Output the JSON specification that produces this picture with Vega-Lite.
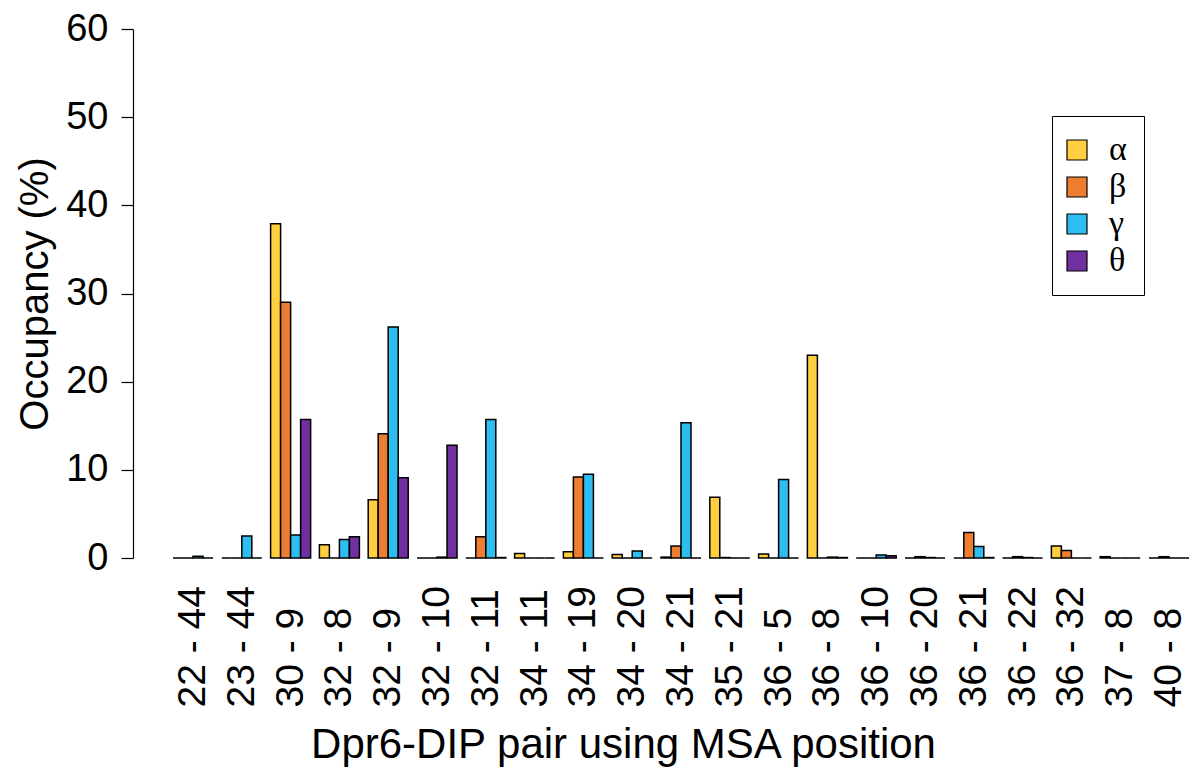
{
  "$schema": "https://vega.github.io/schema/vega-lite/v6.json",
  "width": 1032,
  "height": 529,
  "autosize": "none",
  "padding": {"left": 165, "top": 29, "right": 0, "bottom": 212},
  "background": "white",
  "config": {"view": {"stroke": null}},
  "data": {"values": [
    {"pair": "22 - 44", "s": "α", "v": 0}, {"pair": "22 - 44", "s": "β", "v": 0}, {"pair": "22 - 44", "s": "γ", "v": 0.2}, {"pair": "22 - 44", "s": "θ", "v": 0},
    {"pair": "23 - 44", "s": "α", "v": 0}, {"pair": "23 - 44", "s": "β", "v": 0}, {"pair": "23 - 44", "s": "γ", "v": 2.5}, {"pair": "23 - 44", "s": "θ", "v": 0},
    {"pair": "30 - 9", "s": "α", "v": 37.9}, {"pair": "30 - 9", "s": "β", "v": 29.0}, {"pair": "30 - 9", "s": "γ", "v": 2.6}, {"pair": "30 - 9", "s": "θ", "v": 15.7},
    {"pair": "32 - 8", "s": "α", "v": 1.5}, {"pair": "32 - 8", "s": "β", "v": 0}, {"pair": "32 - 8", "s": "γ", "v": 2.1}, {"pair": "32 - 8", "s": "θ", "v": 2.4},
    {"pair": "32 - 9", "s": "α", "v": 6.6}, {"pair": "32 - 9", "s": "β", "v": 14.1}, {"pair": "32 - 9", "s": "γ", "v": 26.2}, {"pair": "32 - 9", "s": "θ", "v": 9.1},
    {"pair": "32 - 10", "s": "α", "v": 0}, {"pair": "32 - 10", "s": "β", "v": 0}, {"pair": "32 - 10", "s": "γ", "v": 0.1}, {"pair": "32 - 10", "s": "θ", "v": 12.8},
    {"pair": "32 - 11", "s": "α", "v": 0}, {"pair": "32 - 11", "s": "β", "v": 2.4}, {"pair": "32 - 11", "s": "γ", "v": 15.7}, {"pair": "32 - 11", "s": "θ", "v": 0.05},
    {"pair": "34 - 11", "s": "α", "v": 0.5}, {"pair": "34 - 11", "s": "β", "v": 0}, {"pair": "34 - 11", "s": "γ", "v": 0}, {"pair": "34 - 11", "s": "θ", "v": 0},
    {"pair": "34 - 19", "s": "α", "v": 0.7}, {"pair": "34 - 19", "s": "β", "v": 9.2}, {"pair": "34 - 19", "s": "γ", "v": 9.5}, {"pair": "34 - 19", "s": "θ", "v": 0},
    {"pair": "34 - 20", "s": "α", "v": 0.4}, {"pair": "34 - 20", "s": "β", "v": 0}, {"pair": "34 - 20", "s": "γ", "v": 0.8}, {"pair": "34 - 20", "s": "θ", "v": 0},
    {"pair": "34 - 21", "s": "α", "v": 0.1}, {"pair": "34 - 21", "s": "β", "v": 1.35}, {"pair": "34 - 21", "s": "γ", "v": 15.35}, {"pair": "34 - 21", "s": "θ", "v": 0},
    {"pair": "35 - 21", "s": "α", "v": 6.9}, {"pair": "35 - 21", "s": "β", "v": 0.05}, {"pair": "35 - 21", "s": "γ", "v": 0}, {"pair": "35 - 21", "s": "θ", "v": 0},
    {"pair": "36 - 5", "s": "α", "v": 0.45}, {"pair": "36 - 5", "s": "β", "v": 0}, {"pair": "36 - 5", "s": "γ", "v": 8.9}, {"pair": "36 - 5", "s": "θ", "v": 0},
    {"pair": "36 - 8", "s": "α", "v": 23.0}, {"pair": "36 - 8", "s": "β", "v": 0}, {"pair": "36 - 8", "s": "γ", "v": 0.1}, {"pair": "36 - 8", "s": "θ", "v": 0.05},
    {"pair": "36 - 10", "s": "α", "v": 0}, {"pair": "36 - 10", "s": "β", "v": 0}, {"pair": "36 - 10", "s": "γ", "v": 0.35}, {"pair": "36 - 10", "s": "θ", "v": 0.25},
    {"pair": "36 - 20", "s": "α", "v": 0}, {"pair": "36 - 20", "s": "β", "v": 0.15}, {"pair": "36 - 20", "s": "γ", "v": 0.05}, {"pair": "36 - 20", "s": "θ", "v": 0},
    {"pair": "36 - 21", "s": "α", "v": 0}, {"pair": "36 - 21", "s": "β", "v": 2.9}, {"pair": "36 - 21", "s": "γ", "v": 1.3}, {"pair": "36 - 21", "s": "θ", "v": 0.05},
    {"pair": "36 - 22", "s": "α", "v": 0}, {"pair": "36 - 22", "s": "β", "v": 0.15}, {"pair": "36 - 22", "s": "γ", "v": 0.05}, {"pair": "36 - 22", "s": "θ", "v": 0},
    {"pair": "36 - 32", "s": "α", "v": 1.35}, {"pair": "36 - 32", "s": "β", "v": 0.85}, {"pair": "36 - 32", "s": "γ", "v": 0}, {"pair": "36 - 32", "s": "θ", "v": 0},
    {"pair": "37 - 8", "s": "α", "v": 0.15}, {"pair": "37 - 8", "s": "β", "v": 0}, {"pair": "37 - 8", "s": "γ", "v": 0}, {"pair": "37 - 8", "s": "θ", "v": 0},
    {"pair": "40 - 8", "s": "α", "v": 0}, {"pair": "40 - 8", "s": "β", "v": 0.15}, {"pair": "40 - 8", "s": "γ", "v": 0}, {"pair": "40 - 8", "s": "θ", "v": 0}
  ]},
  "mark": {"type": "bar", "stroke": "black", "strokeWidth": 1.5},
  "encoding": {
    "x": {
      "field": "pair", "type": "nominal", "sort": null,
      "scale": {"paddingInner": 0.18, "paddingOuter": 0.164},
      "axis": {
        "title": "Dpr6-DIP pair using MSA position",
        "titleFont": "Liberation Sans", "titleFontSize": 42, "titleFontWeight": "normal", "titleColor": "black",
        "titlePadding": 17, "titleX": 458,
        "labelFont": "Liberation Sans", "labelFontSize": 39, "labelColor": "black",
        "labelAngle": -90, "labelAlign": "left", "labelBaseline": "middle",
        "labelPadding": 149, "ticks": false, "tickSize": 0, "domain": false, "grid": false
      }
    },
    "xOffset": {"field": "s", "type": "nominal", "sort": ["α", "β", "γ", "θ"], "scale": {"paddingInner": 0, "paddingOuter": 0}},
    "y": {
      "field": "v", "type": "quantitative",
      "scale": {"domain": [0, 60], "nice": false},
      "axis": {
        "title": "Occupancy (%)", "values": [0, 10, 20, 30, 40, 50, 60],
        "titleFont": "Liberation Sans", "titleFontSize": 40, "titleFontWeight": "normal", "titleColor": "black",
        "titlePadding": 10,
        "labelFont": "Liberation Sans", "labelFontSize": 38, "labelColor": "black",
        "labelPadding": 13, "tickSize": 12, "tickColor": "black", "tickWidth": 1.2,
        "domainColor": "black", "domainWidth": 1.2, "grid": false, "offset": 32
      }
    },
    "color": {
      "field": "s", "type": "nominal",
      "scale": {"domain": ["α", "β", "γ", "θ"], "range": ["#FFCF40", "#ED7D31", "#2DBDF0", "#7030A0"]},
      "legend": {
        "title": null, "orient": "none", "legendX": 887, "legendY": 87,
        "strokeColor": "black", "fillColor": "white", "padding": 17,
        "symbolType": "square", "symbolSize": 400, "symbolStrokeColor": "black", "symbolStrokeWidth": 1.2,
        "symbolOpacity": 1, "symbolOffset": -9,
        "labelFont": "Liberation Serif", "labelFontSize": 34, "labelColor": "black", "labelOffset": 15,
        "rowPadding": 3
      }
    }
  }
}
